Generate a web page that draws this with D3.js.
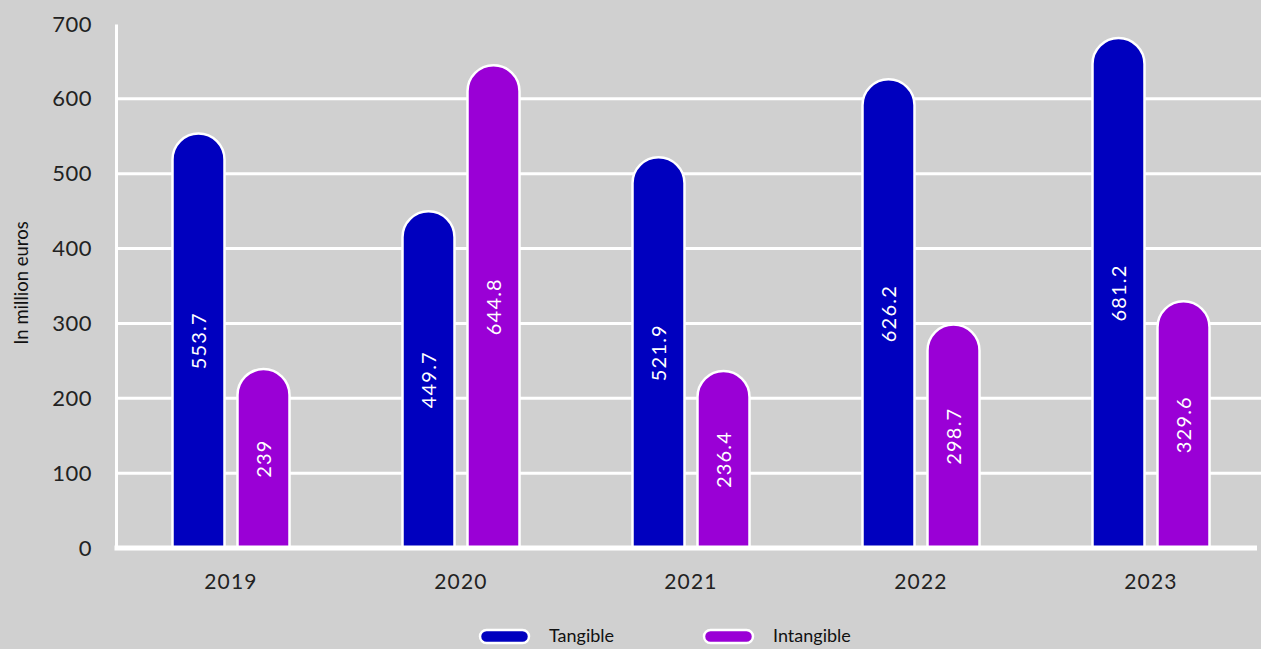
<!DOCTYPE html>
<html>
<head>
<meta charset="utf-8">
<script src="https://cdn.jsdelivr.net/npm/d3@7"></script>
<style>
  html, body { margin: 0; padding: 0; background: #d0d0d0; }
  svg { display: block; }
  text { font-family: "Lato", "Open Sans", sans-serif; }
</style>
</head>
<body>
<svg id="chart" width="1261" height="649"></svg>
<script>
// Investment by year, in million euros
const years = ["2019", "2020", "2021", "2022", "2023"];
const tangible = [553.7, 449.7, 521.9, 626.2, 681.2];
const intangible = [239, 644.8, 236.4, 298.7, 329.6];
const seriesNames = ["Tangible", "Intangible"];
const seriesColors = ["#0000bf", "#9a00d6"];
const yTicks = [0, 100, 200, 300, 400, 500, 600, 700];

const W = 1261, H = 649;
const margin = { top: 24, right: 0, bottom: 101, left: 116 };
const svg = d3.select("#chart");

const x = d3.scaleBand()
  .domain(years)
  .range([margin.left, margin.left + 230 * years.length]);

// two bars per year, centred in each 230px band
const inner = d3.scaleBand()
  .domain(seriesNames)
  .range([56.5, 173.5])
  .paddingInner(0.2);

const y = d3.scaleLinear().domain([0, 700]).range([H - margin.bottom, margin.top]);

svg.append("rect").attr("width", W).attr("height", H).attr("fill", "#d0d0d0");

// gridlines
svg.append("g")
  .selectAll("line")
  .data(yTicks.filter(d => d > 0 && d < 700))
  .join("line")
  .attr("x1", margin.left).attr("x2", W)
  .attr("y1", d => y(d)).attr("y2", d => y(d))
  .attr("stroke", "#ffffff").attr("stroke-width", 3);

// y axis
const yAxis = svg.append("g")
  .attr("transform", `translate(${margin.left},0)`)
  .call(d3.axisLeft(y).tickValues(yTicks).tickSize(0).tickPadding(24));
yAxis.select(".domain").attr("stroke", "#ffffff").attr("stroke-width", 3);
yAxis.selectAll("text").attr("font-size", 22).attr("fill", "#222222").attr("letter-spacing", 0.5);

// rows of bar data
const rows = years.map((yr, i) => ({ year: yr, values: [tangible[i], intangible[i]] }));

function pillPath(x0, w, yTop, yBottom) {
  const r = w / 2;
  return `M${x0},${yBottom} L${x0},${yTop + r} A${r},${r} 0 0 1 ${x0 + w},${yTop + r} L${x0 + w},${yBottom} Z`;
}

const groups = svg.append("g")
  .selectAll("g")
  .data(rows)
  .join("g")
  .attr("transform", d => `translate(${x(d.year)},0)`);

const bars = groups.selectAll("g.bar")
  .data(d => d.values.map((v, k) => ({ name: seriesNames[k], value: v, k })))
  .join("g").attr("class", "bar");

bars.append("path")
  .attr("d", d => pillPath(inner(d.name), inner.bandwidth(), y(d.value), y(0)))
  .attr("fill", d => seriesColors[d.k])
  .attr("stroke", "#ffffff")
  .attr("stroke-width", 2.5);

bars.append("text")
  .attr("transform", d => {
    const cx = inner(d.name) + inner.bandwidth() / 2;
    const cy = (y(d.value) + y(0)) / 2;
    return `translate(${cx},${cy}) rotate(-90)`;
  })
  .attr("text-anchor", "middle")
  .attr("dy", "0.35em")
  .attr("fill", "#ffffff")
  .attr("font-size", 20)
  .attr("letter-spacing", 1.2)
  .text(d => d.value);

// baseline
svg.append("line")
  .attr("x1", margin.left - 1.5).attr("x2", W - 4)
  .attr("y1", y(0)).attr("y2", y(0))
  .attr("stroke", "#ffffff").attr("stroke-width", 5);

// x axis labels
svg.append("g")
  .selectAll("text")
  .data(years)
  .join("text")
  .attr("x", d => x(d) + x.bandwidth() / 2)
  .attr("y", 589)
  .attr("text-anchor", "middle")
  .attr("font-size", 21)
  .attr("fill", "#222222")
  .attr("letter-spacing", 1.2)
  .text(d => d);

// y axis title
svg.append("text")
  .attr("transform", `translate(28,283) rotate(-90)`)
  .attr("text-anchor", "middle")
  .attr("font-size", 18.5)
  .attr("fill", "#111111")
  .text("In million euros");

// legend
const legendX = [480, 704];
const legend = svg.append("g")
  .selectAll("g")
  .data(seriesNames)
  .join("g")
  .attr("transform", (d, i) => `translate(${legendX[i]},636)`);
legend.append("rect")
  .attr("x", 0).attr("y", -6).attr("width", 49).attr("height", 13).attr("rx", 6.5)
  .attr("fill", (d, i) => seriesColors[i])
  .attr("stroke", "#ffffff").attr("stroke-width", 2.5);
legend.append("text")
  .attr("x", 69).attr("y", 0).attr("dy", "0.35em")
  .attr("font-size", 18).attr("fill", "#111111")
  .text(d => d);
</script>
</body>
</html>
